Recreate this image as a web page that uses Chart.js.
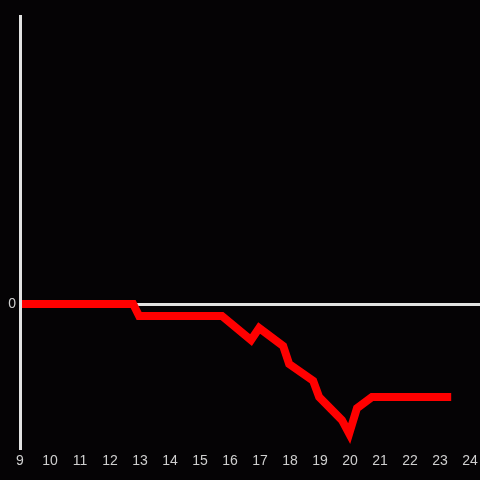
<!DOCTYPE html>
<html>
<head>
<meta charset="utf-8">
<script src="https://cdn.jsdelivr.net/npm/chart.js@4"></script>
<style>
  html, body { margin: 0; padding: 0; background: #050305; }
  #wrap { width: 480px; height: 480px; }
</style>
</head>
<body>
<div id="wrap"><canvas id="lineChart"></canvas></div>
<script>
// hours of the day and the running value
var hours  = [9, 12.77, 12.97, 15.73, 16.7, 16.97, 17.77, 17.97, 18.77, 18.97, 19.73, 19.97, 20.23, 20.73, 23.37];
var values = [0, 0, -0.25, -0.25, -0.75, -0.5, -0.875, -1.25, -1.6, -1.94, -2.42, -2.7, -2.17, -1.94, -1.94];
var hourTicks = [9, 10, 11, 12, 13, 14, 15, 16, 17, 18, 19, 20, 21, 22, 23, 24];
var yTicks = [0];

var points = hours.map(function(h, i) { return {x: h, y: values[i]}; });
var axisColor = '#e2e2e2';
var labelColor = '#cfcfcf';

Chart.defaults.font.family = '"Liberation Sans", Arial, sans-serif';
Chart.defaults.font.size = 14;

new Chart(document.getElementById('lineChart'), {
    type: 'line',
    data: {
        datasets: [{
            data: points,
            borderColor: '#ff0000',
            borderWidth: 8,
            pointRadius: 0,
            fill: false,
            tension: 0
        }]
    },
    options: {
        responsive: true,
        maintainAspectRatio: false,
        animation: false,
        layout: { padding: { top: 16, right: 0, left: 0, bottom: 0 } },
        plugins: { legend: { display: false }, tooltip: { enabled: false } },
        scales: {
            x: {
                type: 'linear',
                min: 9,
                max: 24.33,
                afterBuildTicks: function(axis) {
                    axis.ticks = hourTicks.map(function(v) { return {value: v}; });
                },
                afterFit: function(axis) {
                    axis.height = 32;
                    axis.paddingLeft = 0;
                    axis.paddingRight = 0;
                },
                grid: { display: false, drawTicks: false },
                border: { display: false },
                ticks: { color: labelColor, padding: 5, maxRotation: 0, autoSkip: false }
            },
            y: {
                min: -3,
                max: 6,
                afterBuildTicks: function(axis) {
                    axis.ticks = yTicks.map(function(v) { return {value: v}; });
                },
                afterFit: function(axis) { axis.width = 20; },
                grid: { color: axisColor, lineWidth: 3, drawTicks: false, z: -1 },
                border: { display: true, color: axisColor, width: 3, z: 1 },
                ticks: { color: labelColor, padding: 4 }
            }
        }
    }
});
</script>
</body>
</html>
